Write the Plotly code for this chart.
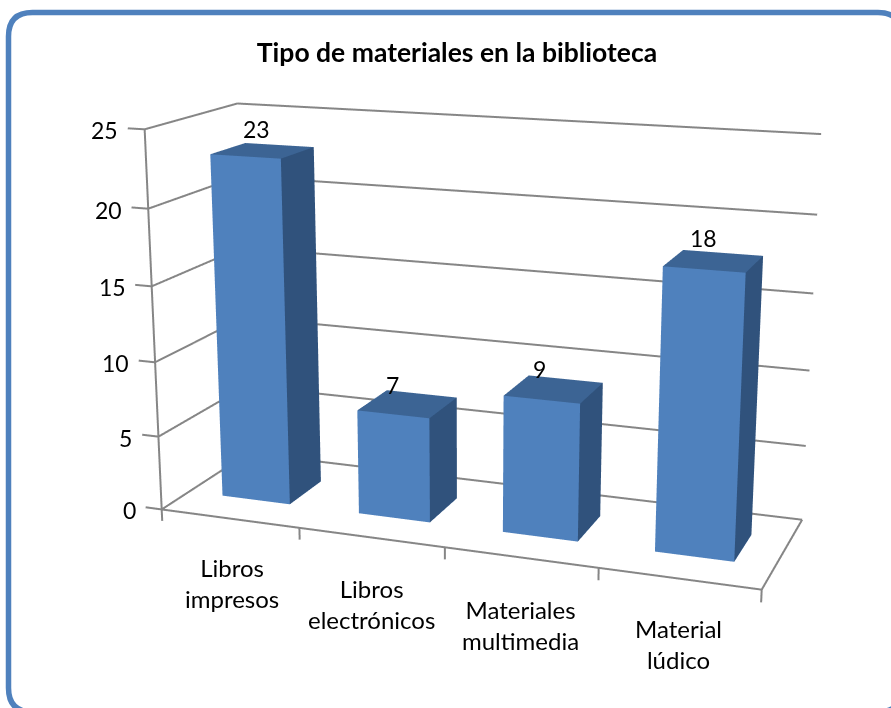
import plotly.graph_objects as go

# --- data ---
categories = ["Libros<br>impresos", "Libros<br>electrónicos", "Materiales<br>multimedia", "Material<br>lúdico"]
values = [23, 7, 9, 18]
zticks = [0, 5, 10, 15, 20, 25]
title = "Tipo de materiales en la biblioteca"

# --- page and camera (plotly's 3D view has a fixed 45 deg field of view, so a taller
#     canvas, shifted up on the page, gives the reference's narrower perspective) ---
W, H2, DY = 891, 1579, 432
SCENE_LEFT = 42.82
XR, YR, ZR = [-0.2, 4.1], [-0.1, 1.1], [-1.5, 26.0]
EYE = (1.3449, -3.6700, 1.0126)
CENTER = (0.0067, -0.0514, -0.0433)
ASPECT = (1.4263, 0.5054, 0.9186)
UP_X = 0.0011
GAP, DEPTH0, DEPTH1 = 0.25, 0.3021, 0.6929
FRONT, TOP, SIDE, GRID = "#4f81bd", "#3c6494", "#30527c", "#868686"

fig = go.Figure()

def add_bar(i, v):
    x0, x1 = i + GAP, i + 1 - GAP
    fig.add_trace(go.Mesh3d(
        x=[x0, x1, x1, x0, x0, x1, x1, x0],
        y=[DEPTH0, DEPTH0, DEPTH1, DEPTH1, DEPTH0, DEPTH0, DEPTH1, DEPTH1],
        z=[0, 0, 0, 0, v, v, v, v],
        i=[0, 0, 4, 4, 1, 1, 0, 0], j=[1, 2, 5, 6, 2, 6, 1, 5], k=[2, 3, 6, 7, 6, 5, 5, 4],
        facecolor=[FRONT] * 2 + [TOP] * 2 + [SIDE] * 2 + [FRONT] * 2,
        flatshading=True, hoverinfo="skip",
        lighting=dict(ambient=1, diffuse=0, specular=0, fresnel=0, roughness=1)))

for i, v in enumerate(values):
    add_bar(i, v)

lx, ly, lz = [], [], []
def seg(a, b):
    lx.extend([a[0], b[0], None]); ly.extend([a[1], b[1], None]); lz.extend([a[2], b[2], None])

n = len(categories)
seg((0, 0, 0), (0, 0, zticks[-1]))
for z in zticks:
    seg((-0.12, 0, z), (0, 0, z))
    seg((0, 0, z), (0, 1, z))
    seg((0, 1, z), (n, 1, z))
seg((0, 0, 0), (n, 0, 0))
seg((n, 0, 0), (n, 1, 0))
for i in range(n + 1):
    seg((i, 0, -0.8), (i, 0, 0))
fig.add_trace(go.Scatter3d(x=lx, y=ly, z=lz, mode="lines", connectgaps=False, hoverinfo="skip",
                           line=dict(color=GRID, width=4)))

NUM, CAT = 23, 24
ann = []
for z in zticks:
    ann.append(dict(x=0, y=0, z=z, text=str(z), showarrow=False, xanchor="right",
                    xshift=-24, yshift=-1, font=dict(size=NUM)))
for i, (v, dx, dy) in enumerate(zip(values, [-6, -15, -14, -10], [22, 19, 20, 23])):
    ann.append(dict(x=i + .5, y=.5, z=v, text=str(v), showarrow=False,
                    xshift=dx, yshift=dy, font=dict(size=NUM)))
for i, (c, dx, dy) in enumerate(zip(categories, [3, 1, 0, 0], [-64, -67, -68, -65])):
    ann.append(dict(x=i + .5, y=0, z=0, text=c, showarrow=False,
                    xshift=dx, yshift=dy, font=dict(size=CAT)))

def X(v): return v / W
def Y(v): return 1 - (v + DY) / H2

l, t, r, b, ra = 8.5, 12.5, 902, 712, 24
path = (f"M{X(l+ra)},{Y(t)} L{X(r-ra)},{Y(t)} Q{X(r)},{Y(t)} {X(r)},{Y(t+ra)} L{X(r)},{Y(b-ra)} "
        f"Q{X(r)},{Y(b)} {X(r-ra)},{Y(b)} L{X(l+ra)},{Y(b)} Q{X(l)},{Y(b)} {X(l)},{Y(b-ra)} "
        f"L{X(l)},{Y(t+ra)} Q{X(l)},{Y(t)} {X(l+ra)},{Y(t)} Z")

fig.update_layout(
    width=W, height=H2, margin=dict(l=0, r=0, t=0, b=0), showlegend=False, paper_bgcolor="white",
    font=dict(family="Lato", color="black"),
    title=dict(text=f"<b>{title}</b>", x=457 / W, xanchor="center", y=Y(53), yanchor="middle",
               font=dict(size=26.5, family="Lato", color="black")),
    scene=dict(domain=dict(x=[SCENE_LEFT / W, 1], y=[0, 1]), aspectmode="manual",
               aspectratio=dict(x=ASPECT[0], y=ASPECT[1], z=ASPECT[2]),
               camera=dict(eye=dict(x=EYE[0], y=EYE[1], z=EYE[2]),
                           center=dict(x=CENTER[0], y=CENTER[1], z=CENTER[2]),
                           up=dict(x=UP_X, y=0, z=1)),
               xaxis=dict(range=XR, visible=False), yaxis=dict(range=YR, visible=False),
               zaxis=dict(range=ZR, visible=False), annotations=ann),
    shapes=[dict(type="path", xref="paper", yref="paper", path=path,
                 line=dict(color=FRONT, width=5.5))])

fig.write_html("out.html", post_script=(
    f"var g=document.getElementById('{{plot_id}}');g.style.position='absolute';g.style.left='0';"
    f"g.style.top='-{DY}px';document.documentElement.style.overflow='hidden';"
    "document.body.style.overflow='hidden';"))
